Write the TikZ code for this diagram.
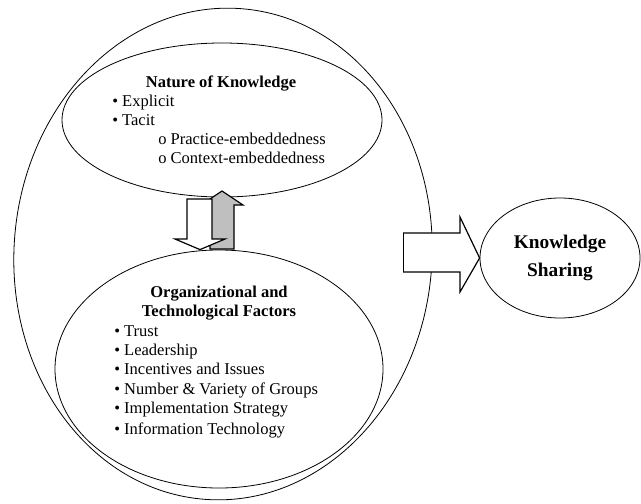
\documentclass[tikz,border=0pt]{standalone}
\usepackage{fontspec}
\setmainfont{Liberation Serif}
\usetikzlibrary{shapes.geometric}
\begin{document}
\begin{tikzpicture}[x=0.75pt,y=-0.75pt,
  ell/.style={draw=black,line width=0.6pt,ellipse,inner sep=0pt},
  txt/.style={font=\fontsize{12.4}{14.6}\selectfont,inner sep=0pt,anchor=base west},
  ttl/.style={font=\fontsize{12.4}{14.6}\selectfont\bfseries,inner sep=0pt,anchor=base},
  blk/.style={draw=black,line width=0.9pt,line join=miter}]
\useasboundingbox (0,0) rectangle (641,503);
% ellipses
\node[ell,minimum width=313.5pt,minimum height=369pt,rotate=-4] (outer) at (223,254) {};
\node[ell,minimum width=240pt,minimum height=115.5pt] (nat) at (222,120) {};
\node[ell,minimum width=246pt,minimum height=178.5pt] (org) at (219,369) {};
\node[ell,minimum width=120pt,minimum height=90pt] (ks) at (560,258) {};
% texts: nature of knowledge
\node[ttl] (natT) at (221,87) {Nature of Knowledge};
\node[txt] (b1) at (112,106) {\textbullet\ Explicit};
\node[txt] (b2) at (112,125) {\textbullet\ Tacit};
\node[txt] (b3) at (158,144) {o Practice-embeddedness};
\node[txt] (b4) at (158,163) {o Context-embeddedness};
% texts: organizational
\node[ttl] (orgT1) at (219,297) {Organizational and};
\node[ttl] (orgT2) at (219,316) {Technological Factors};
\node[txt] (c1) at (114,336) {\textbullet\ Trust};
\node[txt] (c2) at (114,355) {\textbullet\ Leadership};
\node[txt] (c3) at (114,374) {\textbullet\ Incentives and Issues};
\node[txt] (c4) at (114,394) {\textbullet\ Number \& Variety of Groups};
\node[txt] (c5) at (114,413) {\textbullet\ Implementation Strategy};
\node[txt] (c6) at (114,434) {\textbullet\ Information Technology};
% knowledge sharing
\node[font=\fontsize{14.5}{21}\selectfont\bfseries,align=center,inner sep=0pt] (ksT) at (ks.center) {Knowledge\\Sharing};
% block arrows
\draw[blk,fill=black!25] (210,249) -- (234,249) -- (234,205) -- (243,205) -- (222,191) -- (201,205) -- (210,205) -- cycle;
\draw[blk,fill=white] (187,199) -- (212,199) -- (212,239) -- (225,239) -- (org.north -| 200,0) -- (175,239) -- (187,239) -- cycle;
\fill[white] (403,233) -- (460,233) -- (460,217) -- (ks.west) -- (460,292) -- (460,272) -- (403,272) -- cycle;
\draw[blk] (403,233) -- (460,233) -- (460,217) -- (ks.west) -- (460,292) -- (460,272) -- (403,272);
\draw[draw=black,line width=0.4pt] (403,233) -- (403,272);
\end{tikzpicture}
\end{document}
